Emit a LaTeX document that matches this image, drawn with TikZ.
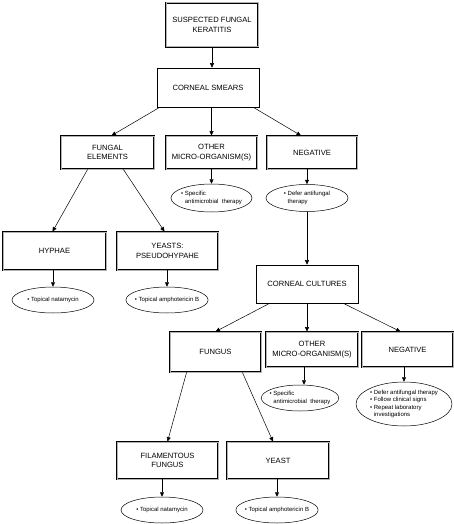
\documentclass[tikz,border=0pt]{standalone}
\usepackage{fontspec}
\setmainfont{Liberation Sans}
\usetikzlibrary{arrows.meta, shapes.geometric}

\tikzset{
  caja/.style={draw, line width=0.6pt, align=center, inner sep=1pt,
    font=\fontsize{7.6}{9.6}\selectfont},
  cajadoble/.style={caja, line width=0.8pt, double=gray!60, double distance=1pt},
  elipse/.style={ellipse, draw, line width=0.5pt, align=left,
    inner xsep=-3pt, inner ysep=1pt, font=\fontsize{6}{7.6}\selectfont},
  flecha/.style={-{Triangle[length=4.5pt,width=4pt]}, line width=0.5pt}
}
\newcommand{\bala}{\textbullet~}
\newcommand{\sangria}{\phantom{\textbullet~}}

\begin{document}
\begin{tikzpicture}[x=1pt, y=-1pt]
        \useasboundingbox (0,0) rectangle (454,524);
        % Cajas principales
        \node[cajadoble, minimum width=92, minimum height=44] (sospecha) at (212,25) {SUSPECTED FUNGAL\\KERATITIS};
        \node[caja, minimum width=102, minimum height=39] (frotis) at (208,87.5) {CORNEAL SMEARS};
        \node[caja, minimum width=102, minimum height=38] (cultivos) at (307,284) {CORNEAL CULTURES};

        % Resultados del frotis
        \node[cajadoble, minimum width=93, minimum height=33] (elem) at (107.5,152.5) {FUNGAL\\ELEMENTS};
        \node[cajadoble, minimum width=91, minimum height=33] (otros1) at (211.5,152.5) {OTHER\\MICRO-ORGANISM(S)};
        \node[cajadoble, minimum width=90, minimum height=33] (neg1) at (312,152.5) {NEGATIVE};
        \node[elipse, minimum width=81, minimum height=28] (otros1e) at (211.5,198) {\bala Specific\\\sangria antimicrobial\ \ therapy};
        \node[elipse, minimum width=82, minimum height=27] (neg1e) at (307,198) {\bala Defer antifungal\\\sangria therapy};

        \node[cajadoble, minimum width=103, minimum height=38] (hifas) at (54.5,251) {HYPHAE};
        \node[cajadoble, minimum width=101, minimum height=38] (levad) at (167.5,251) {YEASTS:\\PSEUDOHYPAHE};
        \node[elipse, minimum width=82, minimum height=26] (hifase) at (53,300) {\bala Topical natamycin};
        \node[elipse, minimum width=82, minimum height=26] (levade) at (167,300) {\bala Topical amphotericin B};

        % Resultados del cultivo
        \node[cajadoble, minimum width=91, minimum height=40] (hongo) at (215.5,352) {FUNGUS};
        \node[cajadoble, minimum width=92, minimum height=35] (otros2) at (312,349.5) {OTHER\\MICRO-ORGANISM(S)};
        \node[cajadoble, minimum width=91, minimum height=35] (neg2) at (407.5,349.5) {NEGATIVE};
        \node[elipse, minimum width=70, minimum height=26] (otros2e) at (300,398) {\bala Specific\\\sangria antimicrobial\ \ therapy};
        \node[elipse, minimum width=96, minimum height=44] (neg2e) at (404,404) {\bala Defer antifungal therapy\\\bala Follow clinical signs\\\bala Repeat laboratory\\\sangria investigations};

        \node[cajadoble, minimum width=101, minimum height=37] (filam) at (167.5,460.5) {FILAMENTOUS\\FUNGUS};
        \node[cajadoble, minimum width=102, minimum height=37] (lev2) at (278,460.5) {YEAST};
        \node[elipse, minimum width=82, minimum height=26] (filame) at (162,510) {\bala Topical natamycin};
        \node[elipse, minimum width=82, minimum height=26] (lev2e) at (277,510) {\bala Topical amphotericin B};

        % Flechas
        \draw[flecha] (sospecha.south) -- (sospecha.south |- frotis.north);
        \draw[flecha] ([xshift=3]frotis.south west) -- ([xshift=4]elem.north);
        \draw[flecha] (otros1.north |- frotis.south) -- (otros1.north);
        \draw[flecha] ([xshift=-6]frotis.south east) -- ([xshift=-11]neg1.north);
        \draw[flecha] (otros1.south) -- (otros1e.north);
        \draw[flecha] (neg1e.north |- neg1.south) -- (neg1e.north);
        \draw[flecha] (neg1e.south) -- (cultivos.north);

        \draw[flecha] ([xshift=27]elem.south west) -- ([xshift=-2]hifas.north);
        \draw[flecha] ([xshift=-31]elem.south east) -- ([xshift=-3]levad.north);
        \draw[flecha] (hifase.north |- hifas.south) -- (hifase.north);
        \draw[flecha] (levade.north |- levad.south) -- (levade.north);

        \draw[flecha] ([xshift=14]cultivos.south west) -- (hongo.north);
        \draw[flecha] (cultivos.south) -- (cultivos.south |- otros2.north);
        \draw[flecha] ([xshift=-15]cultivos.south east) -- ([xshift=-7]neg2.north);
        \draw[flecha] ([xshift=-8]otros2.south) -- ([xshift=-8]otros2.south |- otros2e.north);
        \draw[flecha] (neg2e.north |- neg2.south) -- (neg2e.north);

        \draw[flecha] ([xshift=17]hongo.south west) -- (filam.north);
        \draw[flecha] ([xshift=-19]hongo.south east) -- ([xshift=-5]lev2.north);
        \draw[flecha] (filame.north |- filam.south) -- (filame.north);
        \draw[flecha] (lev2e.north |- lev2.south) -- (lev2e.north);
    \end{tikzpicture}
\end{document}
